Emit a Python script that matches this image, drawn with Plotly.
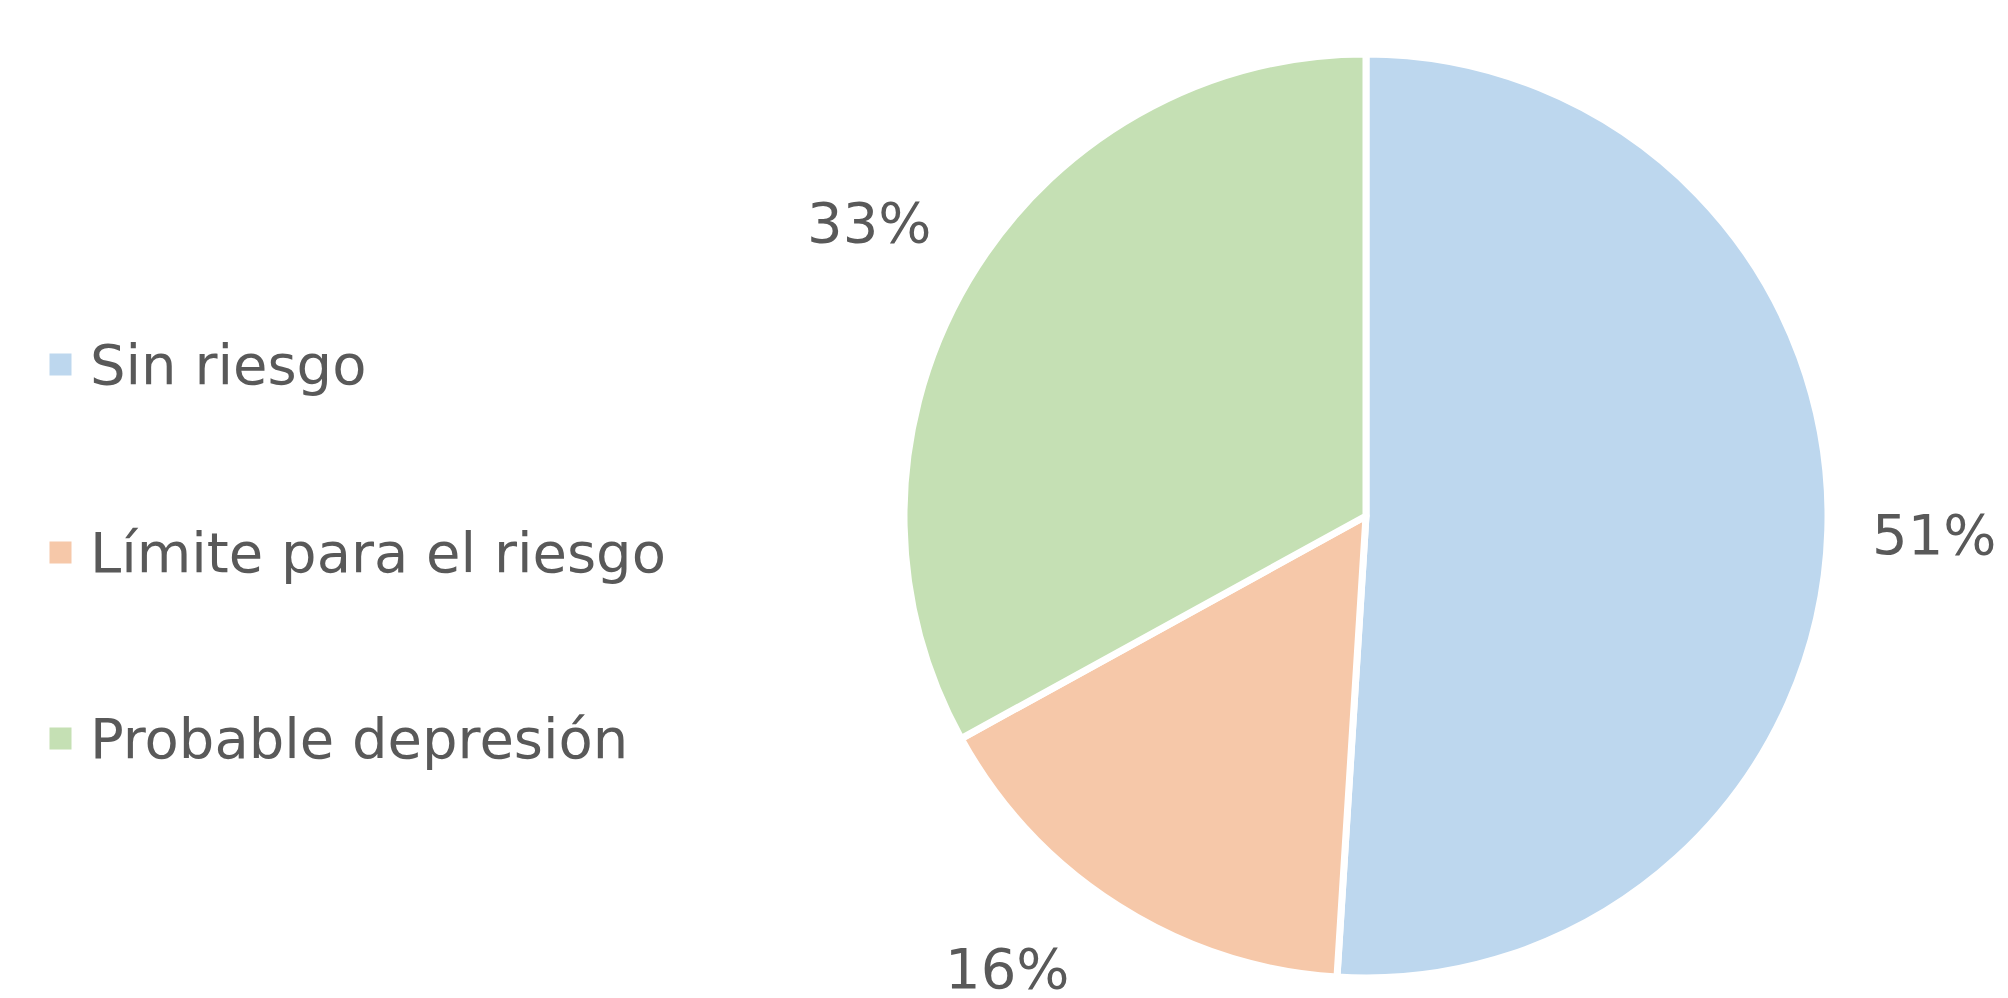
import math
import plotly.graph_objects as go

categories = ["Sin riesgo", "Límite para el riesgo", "Probable depresión"]
values = [51, 16, 33]
colors = ["#BDD7EE", "#F6C8A9", "#C5E0B4"]

W, H = 2008, 998
cx, cy, R = 1358, 508, 462          # pie centre / radius in pixels
TEXT = "#595959"
FONT = "DejaVu Sans"
FS = 56

fig = go.Figure(go.Pie(
    labels=categories,
    values=values,
    marker=dict(colors=colors, line=dict(color="white", width=7)),
    sort=False,
    direction="clockwise",
    rotation=0,
    textinfo="none",
    hoverinfo="label+percent",
    showlegend=False,
    domain=dict(x=[(cx - R) / W, (cx + R) / W],
                y=[(H - cy - R) / H, (H - cy + R) / H]),
))

annotations = []
# percentage labels, positioned outside the slices
total = sum(values)
cum = 0
rl = 1.25 * R
for v in values:
    mid = 2 * math.pi * (cum + v / 2) / total
    cum += v
    dx = rl * math.sin(mid)
    dy = -rl * math.cos(mid)
    py = cy + dy
    if py > 960:
        py = 960
        dy = py - cy
        dx = math.copysign(math.sqrt(max(rl ** 2 - dy ** 2, 0)), dx)
    px = min(cx + dx, W - 82)
    annotations.append(dict(
        x=px / W, y=(H - py) / H, xref="paper", yref="paper",
        text=f"{round(100 * v / total)}%", showarrow=False,
        xanchor="center", yanchor="middle",
        font=dict(family=FONT, size=FS, color=TEXT),
    ))

# legend built from annotations
leg_y = [356, 544, 730]
for name, col, ly in zip(categories, colors, leg_y):
    annotations.append(dict(
        x=41 / W, y=(H - ly) / H, xref="paper", yref="paper",
        text=" ", showarrow=False, xanchor="left", yanchor="middle",
        width=21, height=21, bgcolor=col, borderpad=0,
        font=dict(size=4),
    ))
    annotations.append(dict(
        x=80 / W, y=(H - ly) / H, xref="paper", yref="paper",
        text=name, showarrow=False, xanchor="left", yanchor="middle",
        font=dict(family=FONT, size=FS, color=TEXT),
    ))

fig.update_layout(
    width=W, height=H,
    margin=dict(l=0, r=0, t=0, b=0),
    paper_bgcolor="white",
    plot_bgcolor="white",
    annotations=annotations,
)

fig.write_html("out.html")
